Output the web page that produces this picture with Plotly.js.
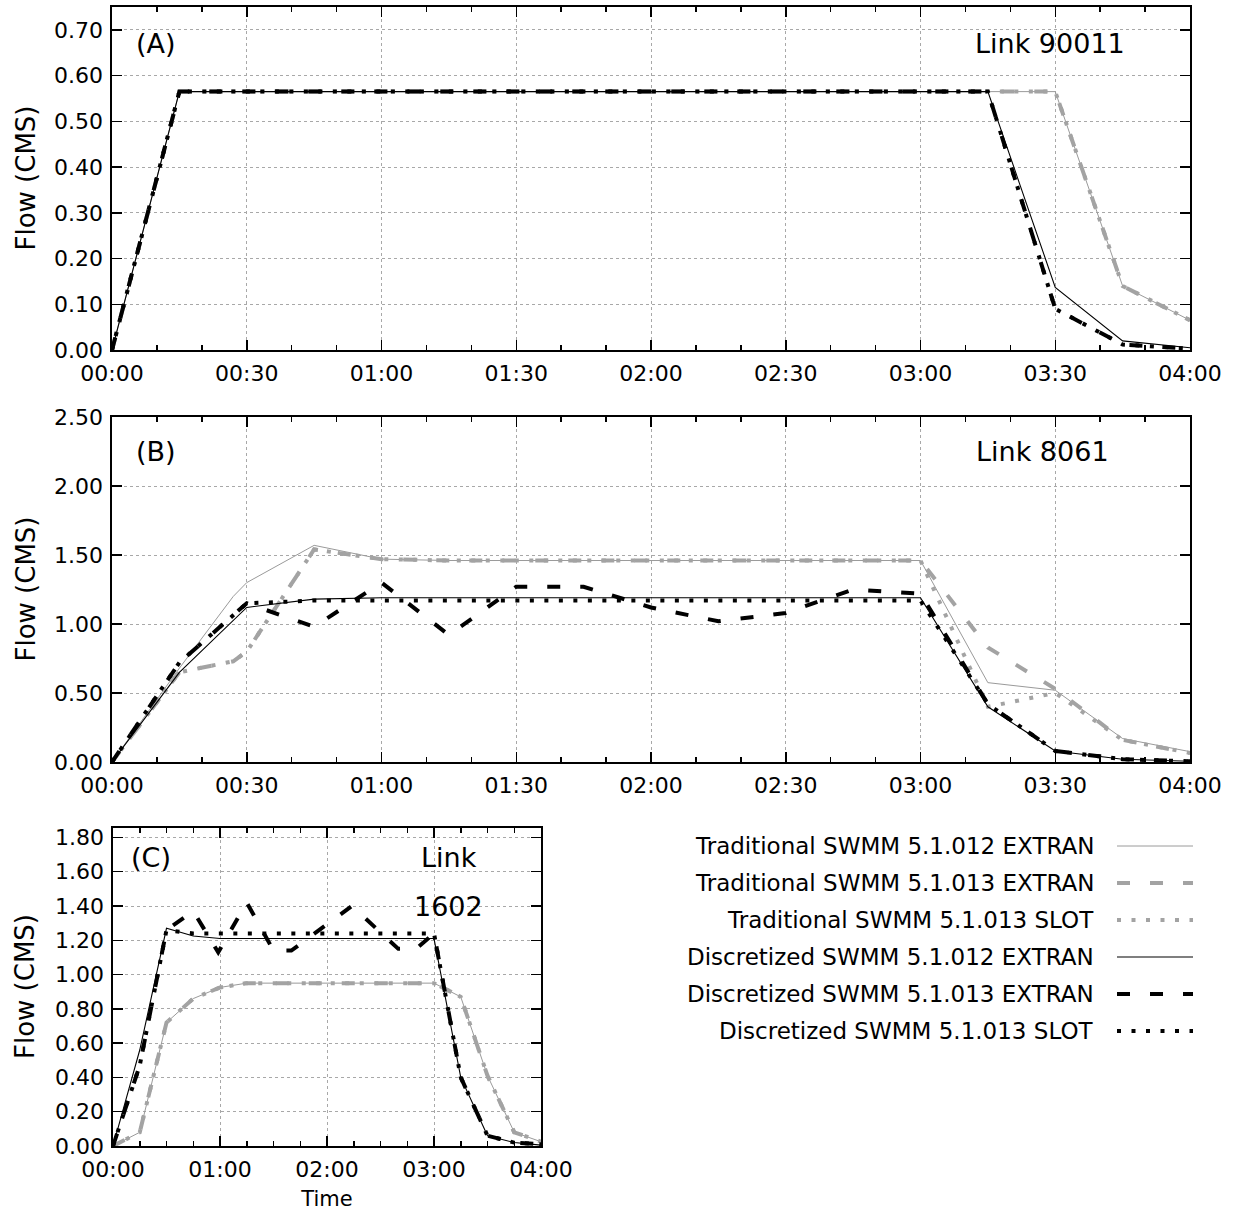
<!DOCTYPE html>
<html>
<head>
<meta charset="utf-8">
<script src="https://cdn.plot.ly/plotly-3.0.1.min.js"></script>
<style>
  html, body { margin: 0; padding: 0; background: #ffffff; }
  #chart { width: 1238px; height: 1214px; }
</style>
</head>
<body>
<div id="chart"></div>
<script>
// ---------------- DATA (time in minutes, flow in CMS) ----------------
const SERIES_NAMES = [
  'Traditional SWMM 5.1.012 EXTRAN',
  'Traditional SWMM 5.1.013 EXTRAN',
  'Traditional SWMM 5.1.013 SLOT',
  'Discretized SWMM 5.1.012 EXTRAN',
  'Discretized SWMM 5.1.013 EXTRAN',
  'Discretized SWMM 5.1.013 SLOT'
];

const TIME_15 = [0, 15, 30, 45, 60, 75, 90, 105, 120, 135, 150, 165, 180, 195, 210, 225, 240];

// Panel A : Link 90011
const A_TRAD012     = [0, 0.565, 0.565, 0.565, 0.565, 0.565, 0.565, 0.565, 0.565, 0.565, 0.565, 0.565, 0.565, 0.565, 0.565, 0.14, 0.065];
const A_TRAD013     = [0, 0.565, 0.565, 0.565, 0.565, 0.565, 0.565, 0.565, 0.565, 0.565, 0.565, 0.565, 0.565, 0.565, 0.565, 0.14, 0.065];
const A_TRAD013SLOT = [0, 0.565, 0.565, 0.565, 0.565, 0.565, 0.565, 0.565, 0.565, 0.565, 0.565, 0.565, 0.565, 0.565, 0.565, 0.14, 0.065];
const A_DISC012     = [0, 0.565, 0.565, 0.565, 0.565, 0.565, 0.565, 0.565, 0.565, 0.565, 0.565, 0.565, 0.565, 0.565, 0.137, 0.02, 0.005];
const A_DISC013     = [0, 0.565, 0.565, 0.565, 0.565, 0.565, 0.565, 0.565, 0.565, 0.565, 0.565, 0.565, 0.565, 0.565, 0.09, 0.012, 0.003];
const A_DISC013SLOT = [0, 0.565, 0.565, 0.565, 0.565, 0.565, 0.565, 0.565, 0.565, 0.565, 0.565, 0.565, 0.565, 0.565, 0.09, 0.012, 0.003];

// Panel B : Link 8061
const B_TRAD_TIME   = [0, 15, 27, 30, 45, 60, 75, 90, 105, 120, 135, 150, 165, 180, 195, 210, 225, 240];
const B_TRAD012     = [0, 0.68, 1.20, 1.30, 1.57, 1.47, 1.46, 1.46, 1.46, 1.46, 1.46, 1.46, 1.46, 1.46, 0.575, 0.52, 0.17, 0.075];
const B_TRAD013     = [0, 0.65, 0.73, 0.80, 1.54, 1.47, 1.46, 1.46, 1.46, 1.46, 1.46, 1.46, 1.46, 1.46, 0.83, 0.53, 0.16, 0.065];
const B_TRAD013SLOT = [0, 0.65, 0.73, 0.80, 1.54, 1.47, 1.46, 1.46, 1.46, 1.46, 1.46, 1.46, 1.46, 1.46, 0.40, 0.50, 0.16, 0.065];
const B_DISC012     = [0, 0.65, 1.12, 1.18, 1.19, 1.19, 1.19, 1.19, 1.19, 1.19, 1.19, 1.19, 1.19, 0.40, 0.08, 0.02, 0.005];
const B_DISC013     = [0, 0.72, 1.15, 0.98, 1.30, 0.92, 1.27, 1.27, 1.12, 1.02, 1.08, 1.25, 1.22, 0.42, 0.08, 0.02, 0.005];
const B_DISC013SLOT = [0, 0.72, 1.15, 1.17, 1.17, 1.17, 1.17, 1.17, 1.17, 1.17, 1.17, 1.17, 1.17, 0.42, 0.08, 0.02, 0.005];

// Panel C : Link 1602
const C_TRAD012     = [0, 0.08, 0.72, 0.86, 0.925, 0.95, 0.95, 0.95, 0.95, 0.95, 0.95, 0.95, 0.95, 0.87, 0.41, 0.08, 0.025];
const C_TRAD013     = [0, 0.08, 0.72, 0.86, 0.925, 0.95, 0.95, 0.95, 0.95, 0.95, 0.95, 0.95, 0.95, 0.87, 0.41, 0.08, 0.025];
const C_TRAD013SLOT = [0, 0.08, 0.72, 0.86, 0.925, 0.95, 0.95, 0.95, 0.95, 0.95, 0.95, 0.95, 0.95, 0.87, 0.41, 0.08, 0.025];
const C_DISC012     = [0, 0.56, 1.27, 1.225, 1.21, 1.21, 1.21, 1.21, 1.21, 1.21, 1.21, 1.21, 1.21, 0.40, 0.06, 0.02, 0.005];
const C_DISC013_TIME = [0, 15, 30, 45, 59, 75, 90, 100, 134, 160, 170, 180, 195, 210, 225, 240];
const C_DISC013     = [0, 0.47, 1.26, 1.37, 1.13, 1.42, 1.14, 1.14, 1.40, 1.15, 1.15, 1.24, 0.40, 0.06, 0.02, 0.01];
const C_DISC013SLOT = [0, 0.47, 1.26, 1.24, 1.24, 1.24, 1.24, 1.24, 1.24, 1.24, 1.24, 1.24, 1.24, 0.40, 0.06, 0.02, 0.01];

// Tick labels
const AB_TICK_VALS   = [0, 30, 60, 90, 120, 150, 180, 210, 240];
const AB_TICK_LABELS = ['00:00', '00:30', '01:00', '01:30', '02:00', '02:30', '03:00', '03:30', '04:00'];
const C_TICK_VALS    = [0, 60, 120, 180, 240];
const C_TICK_LABELS  = ['00:00', '01:00', '02:00', '03:00', '04:00'];

const PANEL_LABELS = ['(A)', '(B)', '(C)'];
const LINK_LABELS  = ['Link 90011', 'Link 8061', 'Link', '1602'];
const Y_TITLE = 'Flow (CMS)';
const X_TITLE = 'Time';

// ---------------- STYLES ----------------
const GRAY = '#a3a3a3';
const STYLES = [
  { color: '#9a9a9a', width: 1, dash: 'solid' },
  { color: GRAY, width: 4, dash: '13px,20px' },
  { color: GRAY, width: 4, dash: '4px,10.5px' },
  { color: '#000000', width: 1.1, dash: 'solid' },
  { color: '#000000', width: 4, dash: '13px,20px' },
  { color: '#000000', width: 4, dash: '4px,10.5px' }
];
const FONT = 'DejaVu Sans, Bitstream Vera Sans, Verdana, sans-serif';

function mk(x, y, i, xa, ya) {
  return {
    x: x, y: y, type: 'scatter', mode: 'lines', name: SERIES_NAMES[i],
    xaxis: xa, yaxis: ya, showlegend: false, hoverinfo: 'x+y+name',
    line: { color: STYLES[i].color, width: STYLES[i].width, dash: STYLES[i].dash, shape: 'linear' }
  };
}

const traces = [
  // Panel A
  mk(TIME_15, A_TRAD012, 0, 'x', 'y'),
  mk(TIME_15, A_TRAD013, 1, 'x', 'y'),
  mk(TIME_15, A_TRAD013SLOT, 2, 'x', 'y'),
  mk(TIME_15, A_DISC012, 3, 'x', 'y'),
  mk(TIME_15, A_DISC013, 4, 'x', 'y'),
  mk(TIME_15, A_DISC013SLOT, 5, 'x', 'y'),
  // Panel B
  mk(B_TRAD_TIME, B_TRAD012, 0, 'x2', 'y2'),
  mk(B_TRAD_TIME, B_TRAD013, 1, 'x2', 'y2'),
  mk(B_TRAD_TIME, B_TRAD013SLOT, 2, 'x2', 'y2'),
  mk(TIME_15, B_DISC012, 3, 'x2', 'y2'),
  mk(TIME_15, B_DISC013, 4, 'x2', 'y2'),
  mk(TIME_15, B_DISC013SLOT, 5, 'x2', 'y2'),
  // Panel C
  mk(TIME_15, C_TRAD012, 0, 'x3', 'y3'),
  mk(TIME_15, C_TRAD013, 1, 'x3', 'y3'),
  mk(TIME_15, C_TRAD013SLOT, 2, 'x3', 'y3'),
  mk(TIME_15, C_DISC012, 3, 'x3', 'y3'),
  mk(C_DISC013_TIME, C_DISC013, 4, 'x3', 'y3'),
  mk(TIME_15, C_DISC013SLOT, 5, 'x3', 'y3')
];

// ---------------- LAYOUT ----------------
const W = 1238, H = 1214;
const px = v => v / W;
const py = v => 1 - v / H;

function xAxis(domain, anchor, vals, labels, minorStep, title) {
  const ax = {
    domain: domain, anchor: anchor, range: [0, 240],
    tickmode: 'array', tickvals: vals, ticktext: labels,
    ticks: 'inside', ticklen: 10, tickwidth: 1.5, tickcolor: '#000',
    ticklabelstandoff: 3,
    showline: true, linecolor: '#000', linewidth: 1.6, mirror: 'allticks',
    showgrid: true, gridcolor: '#a8a8a8', gridwidth: 1, griddash: 'dot',
    zeroline: false,
    tickfont: { family: FONT, size: 22, color: '#000' },
    minor: { tickmode: 'linear', tick0: 0, dtick: minorStep, ticks: 'inside', ticklen: 5,
             tickwidth: 1.5, tickcolor: '#000', showgrid: false },
    fixedrange: true
  };
  if (title) ax.title = { text: title, font: { family: FONT, size: 21, color: '#000' }, standoff: 10 };
  return ax;
}
function yAxis(domain, anchor, maxV, step) {
  return {
    domain: domain, anchor: anchor, range: [0, maxV],
    tickmode: 'linear', tick0: 0, dtick: step, tickformat: '.2f',
    ticks: 'inside', ticklen: 10, tickwidth: 1.5, tickcolor: '#000',
    ticklabelstandoff: 3,
    showline: true, linecolor: '#000', linewidth: 1.6, mirror: 'allticks',
    showgrid: true, gridcolor: '#a8a8a8', gridwidth: 1, griddash: 'dot',
    zeroline: false,
    tickfont: { family: FONT, size: 22, color: '#000' },
    fixedrange: true
  };
}

const annFont = { family: FONT, size: 27, color: '#000' };
const annotations = [
  { text: PANEL_LABELS[0], xref: 'x domain', yref: 'y domain', x: 0.020, y: 0.895, xanchor: 'left', yanchor: 'middle', showarrow: false, font: annFont },
  { text: LINK_LABELS[0], xref: 'x domain', yref: 'y domain', x: 0.942, y: 0.895, xanchor: 'right', yanchor: 'middle', showarrow: false, font: annFont },
  { text: PANEL_LABELS[1], xref: 'x2 domain', yref: 'y2 domain', x: 0.020, y: 0.899, xanchor: 'left', yanchor: 'middle', showarrow: false, font: annFont },
  { text: LINK_LABELS[1], xref: 'x2 domain', yref: 'y2 domain', x: 0.927, y: 0.899, xanchor: 'right', yanchor: 'middle', showarrow: false, font: annFont },
  { text: PANEL_LABELS[2], xref: 'x3 domain', yref: 'y3 domain', x: 0.038, y: 0.906, xanchor: 'left', yanchor: 'middle', showarrow: false, font: annFont },
  { text: LINK_LABELS[2], xref: 'x3 domain', yref: 'y3 domain', x: 0.785, y: 0.906, xanchor: 'center', yanchor: 'middle', showarrow: false, font: annFont },
  { text: LINK_LABELS[3], xref: 'x3 domain', yref: 'y3 domain', x: 0.785, y: 0.752, xanchor: 'center', yanchor: 'middle', showarrow: false, font: annFont }
];

// y-axis titles (placed as rotated labels, centred on each panel)
['y', 'y2', 'y3'].forEach(ya => {
  annotations.push({
    text: Y_TITLE, xref: 'paper', yref: ya + ' domain', x: px(25), y: 0.5,
    xanchor: 'center', yanchor: 'middle', textangle: -90, showarrow: false,
    font: { family: FONT, size: 26, color: '#000' }
  });
});

// custom legend (symbols to the right of the text)
const shapes = [];
const LEG_ROW0 = 846, LEG_STEP = 37;
SERIES_NAMES.forEach((name, i) => {
  const yy = py(LEG_ROW0 + i * LEG_STEP);
  annotations.push({
    text: name, xref: 'paper', yref: 'paper', x: px(1096), y: yy,
    xanchor: 'right', yanchor: 'middle', showarrow: false,
    font: { family: FONT, size: 23, color: '#000' }
  });
  shapes.push({
    type: 'line', xref: 'paper', yref: 'paper',
    x0: px(1117), x1: px(1193), y0: yy, y1: yy,
    line: { color: STYLES[i].color, width: STYLES[i].width, dash: STYLES[i].dash }
  });
});

const layout = {
  width: W, height: H,
  margin: { l: 0, r: 0, t: 0, b: 0, pad: 0 },
  paper_bgcolor: '#ffffff', plot_bgcolor: '#ffffff',
  showlegend: false,
  font: { family: FONT, color: '#000' },
  xaxis:  xAxis([px(112), px(1190)], 'y',  AB_TICK_VALS, AB_TICK_LABELS, 10),
  yaxis:  yAxis([1 - 350 / H, 1 - 7 / H], 'x', 0.75, 0.1),
  xaxis2: xAxis([px(112), px(1190)], 'y2', AB_TICK_VALS, AB_TICK_LABELS, 10),
  yaxis2: yAxis([1 - 762 / H, 1 - 417 / H], 'x2', 2.5, 0.5),
  xaxis3: xAxis([px(113), px(541)], 'y3', C_TICK_VALS, C_TICK_LABELS, 15, X_TITLE),
  yaxis3: yAxis([1 - 1146 / H, 1 - 828 / H], 'x3', 1.855, 0.2),
  annotations: annotations,
  shapes: shapes
};

Plotly.newPlot('chart', traces, layout, { staticPlot: true, displayModeBar: false });
</script>
</body>
</html>
